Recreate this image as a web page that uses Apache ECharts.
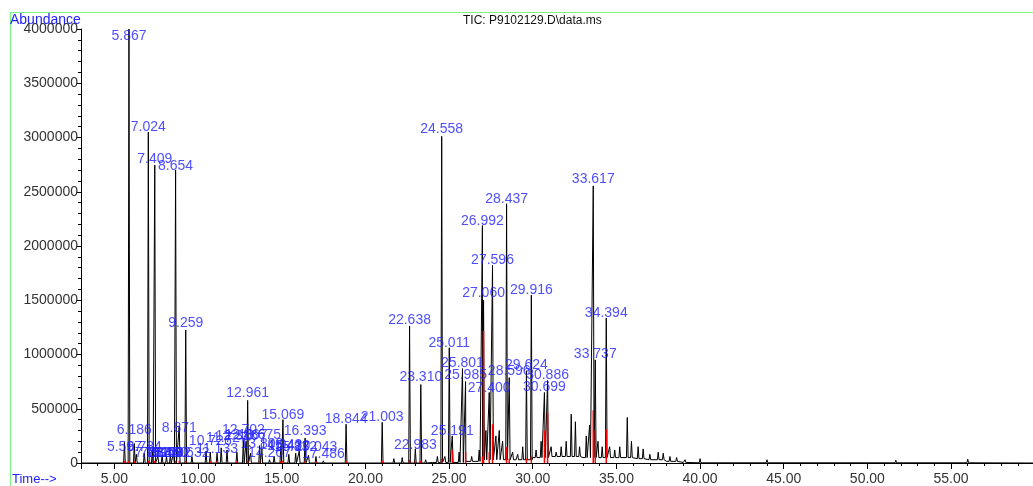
<!DOCTYPE html>
<html>
<head>
<meta charset="utf-8">
<script src="https://cdn.jsdelivr.net/npm/echarts@6/dist/echarts.min.js"></script>
<style>
  html, body { margin: 0; padding: 0; background: #fff; overflow: hidden; }
  #container { width: 1033px; height: 486px; }
</style>
</head>
<body>
<div id="container"></div>
<script>
var dom = document.getElementById('container');
var myChart = echarts.init(dom, null, { renderer: 'canvas' });

// retention time (min), abundance at the apex
const peaks = [
  [5.597, 190000], [5.867, 4000000], [6.186, 180000], [6.31, 80000], [6.784, 90000],
  [7.024, 3050000], [7.262, 120000], [7.409, 2746000], [7.594, 60000], [7.846, 70000],
  [8.109, 60000], [8.340, 70000], [8.532, 90000], [8.654, 2700000], [8.871, 340000],
  [9.259, 1226000], [9.632, 60000], [10.473, 110000], [10.726, 100000], [11.133, 90000],
  [11.38, 140000], [11.727, 120000], [12.316, 100000], [12.702, 210000], [12.867, 200000],
  [12.961, 577000], [13.133, 90000], [13.675, 160000], [13.808, 130000], [14.267, 30000],
  [14.543, 60000], [14.943, 160000], [15.069, 400000], [15.420, 80000], [15.832, 90000],
  [16.043, 110000], [16.393, 230000], [16.6, 70000], [17.043, 60000], [17.486, 20000],
  [18.844, 357000], [19.5, 10000], [20.3, 8000], [21.003, 375000], [21.7, 40000],
  [22.2, 50000], [22.638, 1263000], [22.983, 130000], [23.310, 723000], [23.6, 30000],
  [24.3, 60000], [24.558, 3011000], [24.75, 60000], [25.011, 1062000], [25.191, 250000],
  [25.6, 100000], [25.801, 870000], [25.985, 750000], [26.35, 60000], [26.8, 120000],
  [26.992, 2188000], [27.060, 1500000], [27.2, 300000], [27.400, 650000], [27.596, 1821000],
  [27.8, 250000], [28.0, 300000], [28.2, 200000], [28.437, 2389000], [28.596, 787000],
  [28.8, 100000], [29.1, 80000], [29.4, 150000], [29.624, 850000], [29.916, 1547000],
  [30.2, 120000], [30.5, 200000], [30.699, 650000], [30.886, 760000], [31.1, 150000],
  [31.4, 100000], [31.7, 150000], [32.0, 200000], [32.3, 450000], [32.55, 380000],
  [32.8, 150000], [33.2, 250000], [33.4, 350000], [33.617, 2554000], [33.737, 950000],
  [33.9, 200000], [34.15, 150000], [34.394, 1336000], [34.6, 150000], [34.9, 120000],
  [35.2, 150000], [35.65, 420000], [35.9, 200000], [36.3, 150000], [36.6, 130000],
  [37.0, 80000], [37.5, 100000], [37.8, 90000], [38.2, 60000], [38.6, 50000],
  [39.1, 30000], [40.0, 40000], [41.1, 10000], [42.0, 8000], [44.0, 30000],
  [48.6, 10000], [50.0, 15000], [51.7, 25000], [52.0, 15000], [56.0, 35000]
];

// slow baseline drift under the peaks
const baseline = [
  [3, 0], [24, 5000], [26, 15000], [27, 30000], [29, 30000], [30, 50000], [31, 60000],
  [33, 50000], [35, 50000], [36, 40000], [37, 30000], [38, 15000], [39, 5000], [40, 2000], [59.9, 0]
];

// labelled retention times and the height where each label sits
const peakLabels = [
  [5.867, 3872000], [7.024, 3030000], [7.409, 2737000], [8.654, 2673000], [9.259, 1226000],
  [8.871, 256000], [6.186, 238000], [5.597, 82000], [6.784, 82000], [7.262, 27000],
  [7.594, 27000], [7.846, 27000], [8.109, 27000], [8.340, 27000], [8.532, 27000],
  [9.632, 27000], [10.726, 137000], [11.133, 64000], [11.727, 165000], [12.316, 183000],
  [12.702, 238000], [12.867, 192000], [12.961, 577000], [13.675, 192000], [13.808, 110000],
  [14.267, 27000], [14.943, 100000], [15.069, 375000], [15.420, 92000], [15.832, 82000],
  [16.393, 229000], [17.043, 82000], [17.486, 18000], [18.844, 339000], [21.003, 357000],
  [22.638, 1254000], [22.983, 100000], [23.310, 723000], [24.558, 3011000], [25.011, 1043000],
  [25.191, 229000], [25.801, 860000], [25.985, 741000], [26.992, 2169000], [27.060, 1501000],
  [27.400, 622000], [27.596, 1803000], [28.437, 2371000], [28.596, 778000], [29.624, 833000],
  [29.916, 1529000], [30.886, 741000], [30.699, 632000], [33.617, 2554000], [33.737, 943000],
  [34.394, 1318000]
];

// red integration marks
const integMarks = [
  [5.597, 20000], [5.867, 20000], [6.186, 20000], [7.024, 20000], [7.409, 20000],
  [8.654, 20000], [8.871, 20000], [9.259, 20000], [10.726, 15000], [11.133, 15000],
  [12.316, 15000], [12.961, 20000], [13.675, 15000], [14.943, 15000], [15.069, 20000],
  [16.393, 15000], [17.043, 15000], [18.844, 20000], [21.003, 20000], [22.638, 30000],
  [22.983, 15000], [23.310, 20000], [24.558, 40000], [25.191, 120000], [25.985, 100000],
  [26.992, 60000], [27.060, 1217000], [27.400, 100000], [27.596, 357000], [28.437, 146000],
  [28.596, 40000], [29.624, 40000], [29.916, 60000], [30.699, 300000], [30.886, 467000],
  [33.617, 485000], [33.737, 300000], [34.394, 310000]
];

const halfWidth = 0.05;
function baseAt(t) {
  let b = 0;
  baseline.forEach(p => { if (p[0] <= t) b = p[1]; });
  return b;
}
let lineData = baseline.slice();
peaks.forEach(p => {
  const b = baseAt(p[0]);
  lineData.push([p[0] - halfWidth, b], [p[0], p[1]], [p[0] + halfWidth, b]);
});
lineData.sort((a, b) => a[0] - b[0]);

const blue = '#2222ff';
const fontFamily = 'Liberation Sans, Arial, sans-serif';

var option = {
  animation: false,
  backgroundColor: '#fff',
  grid: { left: 81, right: 0, top: 29, bottom: 20, containLabel: false },
  xAxis: {
    type: 'value',
    min: 3,
    max: 59.9,
    splitNumber: 11,
    axisLine: { lineStyle: { color: '#000', width: 1 } },
    axisTick: { length: 6, lineStyle: { color: '#000' } },
    minorTick: { show: true, splitNumber: 5, length: 3, lineStyle: { color: '#000' } },
    splitLine: { show: false },
    axisLabel: {
      showMinLabel: false, showMaxLabel: false,
      color: '#333', fontSize: 14, fontFamily: fontFamily, margin: 9,
      formatter: v => v.toFixed(2)
    }
  },
  yAxis: {
    type: 'value',
    min: 0,
    max: 4000000,
    interval: 500000,
    axisLine: { show: true, lineStyle: { color: '#000', width: 1 } },
    axisTick: { show: true, length: 5, lineStyle: { color: '#000' } },
    minorTick: { show: true, splitNumber: 5, length: 3, lineStyle: { color: '#000' } },
    splitLine: { show: false },
    axisLabel: { color: '#333', fontSize: 14, fontFamily: fontFamily, margin: 3, formatter: v => String(v) }
  },
  series: [
    {
      type: 'line',
      data: lineData,
      showSymbol: false,
      lineStyle: { color: '#000', width: 1 },
      z: 2
    },
    {
      type: 'bar',
      data: integMarks,
      barWidth: 1.5,
      itemStyle: { color: '#ff0000' },
      z: 3
    },
    {
      type: 'scatter',
      data: peakLabels,
      symbolSize: 0,
      z: 4,
      label: {
        show: true,
        position: 'top',
        distance: 0,
        color: blue,
        fontSize: 14,
        fontFamily: fontFamily,
        formatter: p => p.value[0].toFixed(3)
      }
    }
  ],
  graphic: [
    { type: 'line', shape: { x1: 10, y1: 12.5, x2: 1033, y2: 12.5 }, style: { stroke: '#7cf57c', lineWidth: 1 } },
    { type: 'line', shape: { x1: 10.5, y1: 12, x2: 10.5, y2: 486 }, style: { stroke: '#7cf57c', lineWidth: 1 } },
    { type: 'text', left: 10, top: 13, style: { text: 'Abundance', fill: blue, font: '14px ' + fontFamily } },
    { type: 'text', left: 12, top: 473, style: { text: 'Time-->', fill: blue, font: '13px ' + fontFamily } },
    { type: 'text', left: 463, top: 15, style: { text: 'TIC: P9102129.D\\data.ms', fill: '#111', font: '12px ' + fontFamily } }
  ]
};

myChart.setOption(option);
window.addEventListener('resize', myChart.resize);
</script>
</body>
</html>
